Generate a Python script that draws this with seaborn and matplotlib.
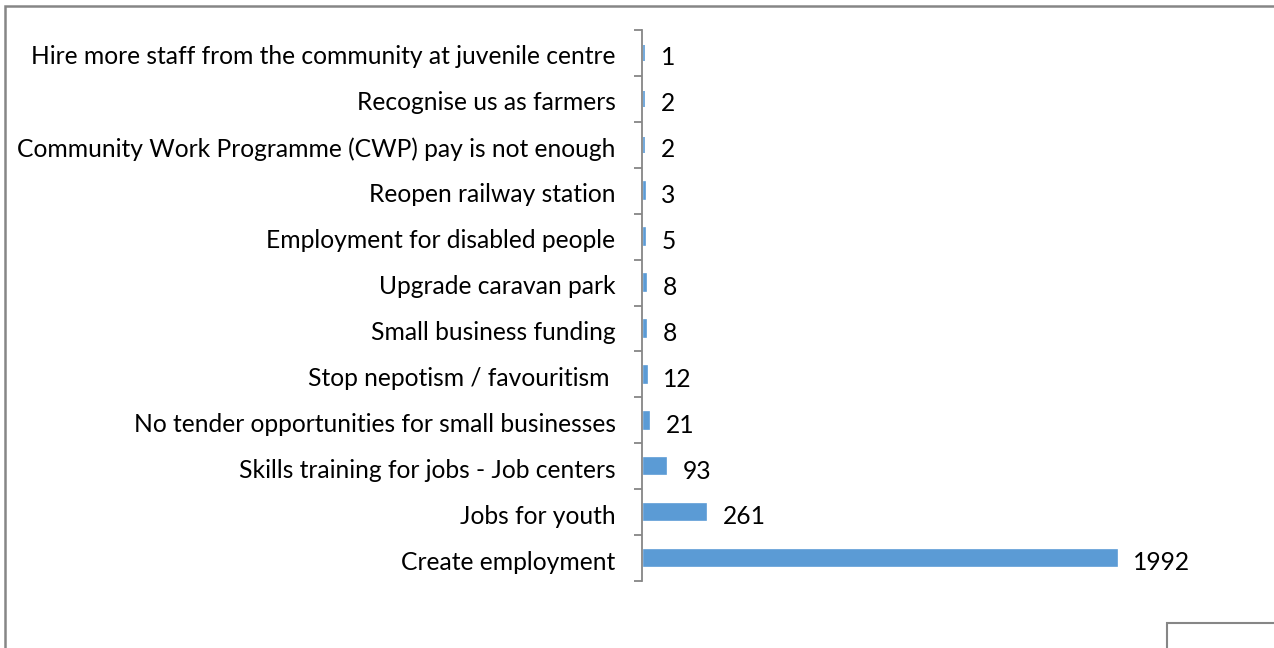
import matplotlib
matplotlib.use("Agg")
import matplotlib.pyplot as plt
from matplotlib.patches import Rectangle
import matplotlib.transforms as mtransforms
import seaborn as sns
import pandas as pd
import numpy as np

categories = [
    "Hire more staff from the community at juvenile centre",
    "Recognise us as farmers",
    "Community Work Programme (CWP) pay is not enough",
    "Reopen railway station",
    "Employment for disabled people",
    "Upgrade caravan park",
    "Small business funding",
    "Stop nepotism / favouritism ",
    "No tender opportunities for small businesses",
    "Skills training for jobs - Job centers",
    "Jobs for youth",
    "Create employment",
]
values = [1, 2, 2, 3, 5, 8, 8, 12, 21, 93, 261, 1992]

sns.set_theme(style="white")
plt.rcParams['font.family'] = ['Lato', 'DejaVu Sans']

W, H = 1274, 648
fig = plt.figure(figsize=(W / 100, H / 100), dpi=100)
ax = fig.add_axes([642 / W, 1 - 581 / H, 524 / W, (581 - 30) / H])

df = pd.DataFrame({"category": categories, "value": values})
sns.barplot(data=df, y="category", x="value", orient="h", color="#5B9BD5",
            saturation=1, width=0.36, edgecolor="#5B9BD5", linewidth=1.2, ax=ax)

ax.set_xlim(-8, 2200)
ax.set_ylim(len(categories) - 0.5, -0.5)
ax.set_xlabel("")
ax.set_ylabel("")
ax.set_xticks([])
for s in ["top", "right", "bottom"]:
    ax.spines[s].set_visible(False)
ax.spines["left"].set_color("#868686")
ax.spines["left"].set_linewidth(1.3)

ax.set_yticks(range(len(categories)))
ax.set_yticklabels(categories, fontsize=17.7, color="#000000")
ax.tick_params(axis="y", which="major", length=0, pad=19)
ax.set_yticks(np.arange(-0.5, len(categories), 1), minor=True)
ax.tick_params(axis="y", which="minor", length=6, width=1.3, color="#868686", left=True)

shift = mtransforms.ScaledTranslation(0, -2 / 100, fig.dpi_scale_trans)
for lab in ax.get_yticklabels():
    lab.set_transform(lab.get_transform() + shift)

for i, v in enumerate(values):
    ax.annotate(str(v), xy=(v, i), xytext=(12, -3.5), textcoords="offset points",
                va="center", ha="left", fontsize=17.7, color="#000000")

# outer chart border (partially cropped)
fig.patches.append(Rectangle((5 / W, -0.1), 1.2, 1 - 6 / H + 0.1, transform=fig.transFigure,
                             fill=False, edgecolor="#868686", linewidth=1.8, figure=fig))
# small box at bottom right
fig.patches.append(Rectangle((1167 / W, -0.1), 0.2, 0.1 + (648 - 623) / H, transform=fig.transFigure,
                             fill=False, edgecolor="#868686", linewidth=1.5, figure=fig))

fig.savefig("out.png", dpi=100)
